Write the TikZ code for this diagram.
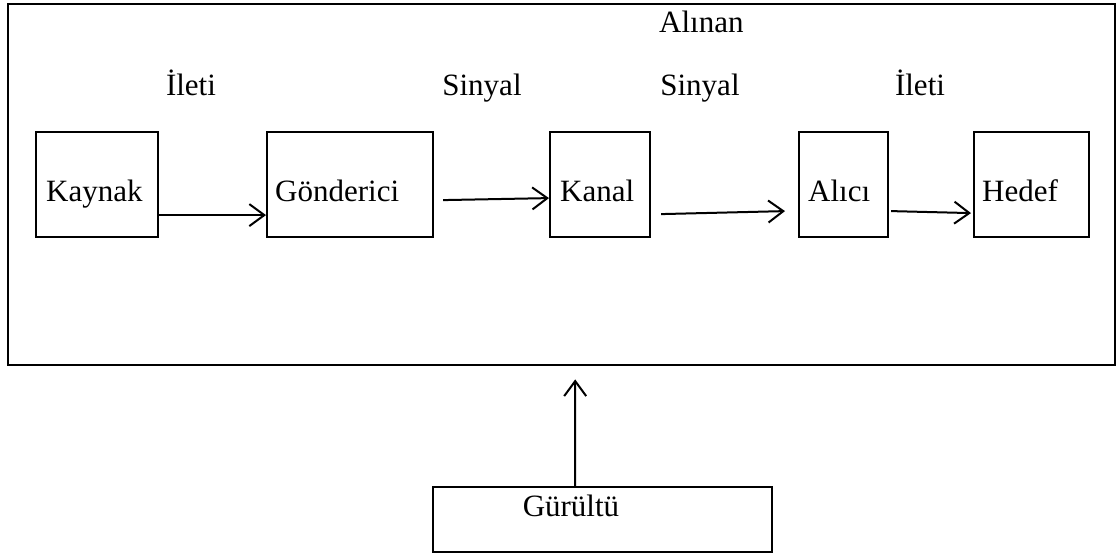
\documentclass[tikz,border=0pt]{standalone}
\usepackage{fontspec}
\setmainfont{Liberation Serif}
\usetikzlibrary{arrows.meta}
\begin{document}
\begin{tikzpicture}[x=1pt,y=-1pt,
  box/.style={draw, line width=2.2pt, inner sep=0pt, anchor=north west},
  txt/.style={inner sep=0pt, font=\fontsize{31}{37}\selectfont},
  conn/.style={line width=2pt, -{Straight Barb[length=15pt,width=22pt,line width=2pt]}}]
\useasboundingbox (0,0) rectangle (1119,553);
% outer frame
\node[box, line width=2.4pt, minimum width=1107pt, minimum height=361pt] (outer) at (7,3) {};
% boxes
\node[box, minimum width=122pt, minimum height=105pt] (kaynak) at (35,131) {};
\node[box, minimum width=166pt, minimum height=105pt] (gonderici) at (266,131) {};
\node[box, minimum width=100pt, minimum height=105pt] (kanal) at (549,131) {};
\node[box, minimum width=89pt, minimum height=105pt] (alici) at (798,131) {};
\node[box, minimum width=115pt, minimum height=105pt] (hedef) at (973,131) {};
\node[box, minimum width=339pt, minimum height=65pt] (gurultu) at (432,486) {};
% box texts
\node[txt, anchor=base west] (kaynakt) at (46,202) {Kaynak};
\node[txt, anchor=base west] (gondericit) at (275,202) {Gönderici};
\node[txt, anchor=base west] (kanalt) at (560,202) {Kanal};
\node[txt, anchor=base west] (alicit) at (808,202) {Alıcı};
\node[txt, anchor=base west] (hedeft) at (982,202) {Hedef};
\node[txt, anchor=base] (gurultut) at (571,516) {Gürültü};
% labels
\node[txt, anchor=base] (l1) at (191,96) {İleti};
\node[txt, anchor=base] (l2) at (482,96) {Sinyal};
\node[txt, anchor=base west] (l3a) at (659,33) {Alınan};
\node[txt, anchor=base] (l3) at (700,96) {Sinyal};
\node[txt, anchor=base] (l4) at (920,96) {İleti};
% connectors
\draw[conn] ([yshift=-30.5pt]kaynak.east) -- ([yshift=-30.5pt]gonderici.west);
\draw[conn] ([xshift=9pt,yshift=-15.5pt]gonderici.east) -- ([yshift=-13.5pt]kanal.west);
\draw[conn] ([xshift=10pt,yshift=-29.5pt]kanal.east) -- ([xshift=-13pt,yshift=-26.5pt]alici.west);
\draw[conn] ([xshift=2pt,yshift=-26.5pt]alici.east) -- ([xshift=-2pt,yshift=-28.5pt]hedef.west);
\draw[conn] ([xshift=-27.5pt]gurultu.north) -- ([xshift=13.5pt,yshift=-13pt]outer.south);
\end{tikzpicture}
\end{document}
